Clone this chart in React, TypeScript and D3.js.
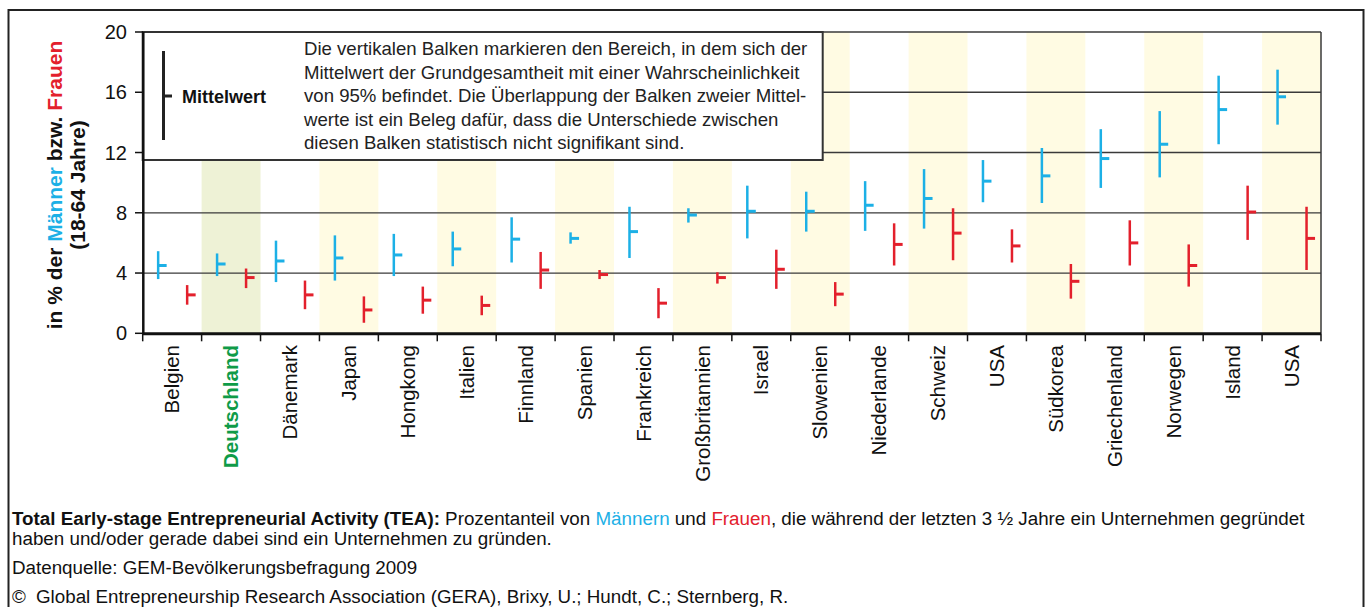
import React from "react";
import * as d3 from "d3";

const categories = ["Belgien","Deutschland","Dänemark","Japan","Hongkong","Italien","Finnland","Spanien","Frankreich","Großbritannien","Israel","Slowenien","Niederlande","Schweiz","USA","Südkorea","Griechenland","Norwegen","Island","USA"];
const menMean = [4.5,4.6,4.8,5.0,5.2,5.6,6.25,6.3,6.75,7.85,8.1,8.1,8.5,8.95,10.1,10.45,11.6,12.55,14.85,15.7];
const menLow = [3.6,3.8,3.4,3.5,3.8,4.45,4.7,5.95,5.0,7.35,6.3,6.75,6.8,6.95,8.7,8.65,9.65,10.35,12.55,13.85];
const menHigh = [5.45,5.3,6.15,6.5,6.6,6.75,7.7,6.7,8.4,8.3,9.8,9.4,10.1,10.9,11.5,12.3,13.55,14.75,17.1,17.5];
const womenMean = [2.55,3.7,2.55,1.55,2.2,1.85,4.2,3.9,2.0,3.7,4.25,2.6,5.9,6.65,5.8,3.45,6.0,4.5,8.05,6.3];
const womenLow = [1.9,3.0,1.6,0.7,1.3,1.2,2.95,3.6,1.0,3.3,2.95,1.8,4.5,4.85,4.7,2.3,4.5,3.1,6.2,4.2];
const womenHigh = [3.2,4.3,3.5,2.45,3.1,2.5,5.4,4.2,3.0,4.05,5.55,3.4,7.3,8.3,6.9,4.6,7.5,5.9,9.8,8.4];
const yTicks = [0,4,8,12,16,20];
const legendLines = [
  "Die vertikalen Balken markieren den Bereich, in dem sich der",
  "Mittelwert der Grundgesamtheit mit einer Wahrscheinlichkeit",
  "von 95% befindet. Die Überlappung der Balken zweier Mittel-",
  "werte ist ein Beleg dafür, dass die Unterschiede zwischen",
  "diesen Balken statistisch nicht signifikant sind.",
];

const BLUE = "#1cb0e6";
const RED = "#e3202c";
const GREEN = "#0f9b48";
const FONT = "'Liberation Sans', Arial, Helvetica, sans-serif";

export default function App() {
  const left = 142.7, right = 1321, top = 32, bottom = 333.3;
  const idx = categories.map((_, i) => String(i));
  const x = d3.scaleBand().domain(idx).range([left, right]).padding(0);
  const y = d3.scaleLinear().domain([0, 20]).range([bottom, top]);
  const bw = x.bandwidth();

  const series = [
    { mean: menMean, low: menLow, high: menHigh, color: BLUE, off: -14 },
    { mean: womenMean, low: womenLow, high: womenHigh, color: RED, off: 15 },
  ];

  return (
    <svg width={1369} height={607} style={{ position: "absolute", left: 0, top: 0, background: "#fff" }} fontFamily={FONT}>
      <rect x={0} y={0} width={1369} height={607} fill="#fff" />
      {/* outer frame */}
      <rect x={8.5} y={10} width={1355} height={640} fill="none" stroke="#222" strokeWidth={2} />

      {/* bands */}
      {idx.map((k, i) =>
        i % 2 === 1 ? (
          <rect key={"b" + k} x={x(k)} y={top} width={bw} height={bottom - top} fill={i === 1 ? "#eef2d6" : "#fffbe3"} />
        ) : null
      )}

      {/* gridlines */}
      {yTicks.filter(t => t > 0).map(t => (
        <line key={"g" + t} x1={left} x2={right} y1={y(t)} y2={y(t)} stroke="#3a3a3a" strokeWidth={1.3} />
      ))}
      <line x1={right} x2={right} y1={top} y2={bottom} stroke="#3a3a3a" strokeWidth={1.5} />

      {/* legend box */}
      <rect x={left} y={top} width={680} height={128} fill="#fff" stroke="#333" strokeWidth={2} />
      <line x1={163.5} x2={163.5} y1={51} y2={140} stroke="#222" strokeWidth={3} />
      <line x1={163.5} x2={172} y1={96} y2={96} stroke="#222" strokeWidth={3} />
      <text x={182} y={103} fontSize={18} fontWeight="bold" fill="#111">Mittelwert</text>
      {legendLines.map((l, i) => (
        <text key={"l" + i} x={304} y={55 + i * 23.5} fontSize={18.6} fill="#222">{l}</text>
      ))}

      {/* error bars */}
      {series.map((s, si) =>
        idx.map((k, i) => {
          const cx = (x(k) as number) + bw / 2 + s.off;
          return (
            <g key={"e" + si + "-" + i}>
              <line x1={cx} x2={cx} y1={y(s.low[i])} y2={y(s.high[i])} stroke={s.color} strokeWidth={2.5} />
              <line x1={cx} x2={cx + 8.5} y1={y(s.mean[i])} y2={y(s.mean[i])} stroke={s.color} strokeWidth={3} />
            </g>
          );
        })
      )}

      {/* y axis */}
      <line x1={143.3} x2={143.3} y1={top} y2={bottom + 1} stroke="#111" strokeWidth={2.5} />
      {yTicks.map(t => (
        <g key={"yt" + t}>
          <line x1={135} x2={143} y1={y(t)} y2={y(t)} stroke="#111" strokeWidth={1.5} />
          <text x={127} y={y(t)} dy="0.35em" textAnchor="end" fontSize={20} fill="#111">{t}</text>
        </g>
      ))}

      {/* x axis */}
      <line x1={left} x2={right} y1={bottom + 0.5} y2={bottom + 0.5} stroke="#111" strokeWidth={3} />
      {d3.range(categories.length + 1).map(i => {
        const xx = left + i * bw;
        return <line key={"xt" + i} x1={xx} x2={xx} y1={bottom} y2={bottom + 8} stroke="#111" strokeWidth={1.5} />;
      })}
      {categories.map((c, i) => {
        const cx = (x(String(i)) as number) + bw / 2;
        return (
          <text key={"xl" + i} transform={`translate(${cx},345) rotate(-90)`} dy="0.35em" textAnchor="end"
            fontSize={20.5} fontWeight={i === 1 ? "bold" : "normal"} fill={i === 1 ? GREEN : "#111"}>{c}</text>
        );
      })}

      {/* y title */}
      <text transform="translate(55,185) rotate(-90)" dy="0.35em" textAnchor="middle" fontSize={21} fontWeight="bold" fill="#111">
        in % der <tspan fill={BLUE}>Männer</tspan> bzw. <tspan fill={RED}>Frauen</tspan>
      </text>
      <text transform="translate(78,185) rotate(-90)" dy="0.35em" textAnchor="middle" fontSize={21} fontWeight="bold" fill="#111">(18-64 Jahre)</text>

      {/* footer */}
      <text x={12} y={525} fontSize={18.8} fill="#111">
        <tspan fontWeight="bold">Total Early-stage Entrepreneurial Activity (TEA):</tspan> Prozentanteil von <tspan fill={BLUE}>Männern</tspan> und <tspan fill={RED}>Frauen</tspan>, die während der letzten 3 ½ Jahre ein Unternehmen gegründet
      </text>
      <text x={12} y={545} fontSize={18.8} fill="#111">haben und/oder gerade dabei sind ein Unternehmen zu gründen.</text>
      <text x={12} y={574} fontSize={18.8} fill="#111">Datenquelle: GEM-Bevölkerungsbefragung 2009</text>
      <text x={12} y={603} fontSize={18.8} fill="#111">©</text>
      <text x={36} y={603} fontSize={18.8} fill="#111">Global Entrepreneurship Research Association (GERA), Brixy, U.; Hundt, C.; Sternberg, R.</text>
    </svg>
  );
}
